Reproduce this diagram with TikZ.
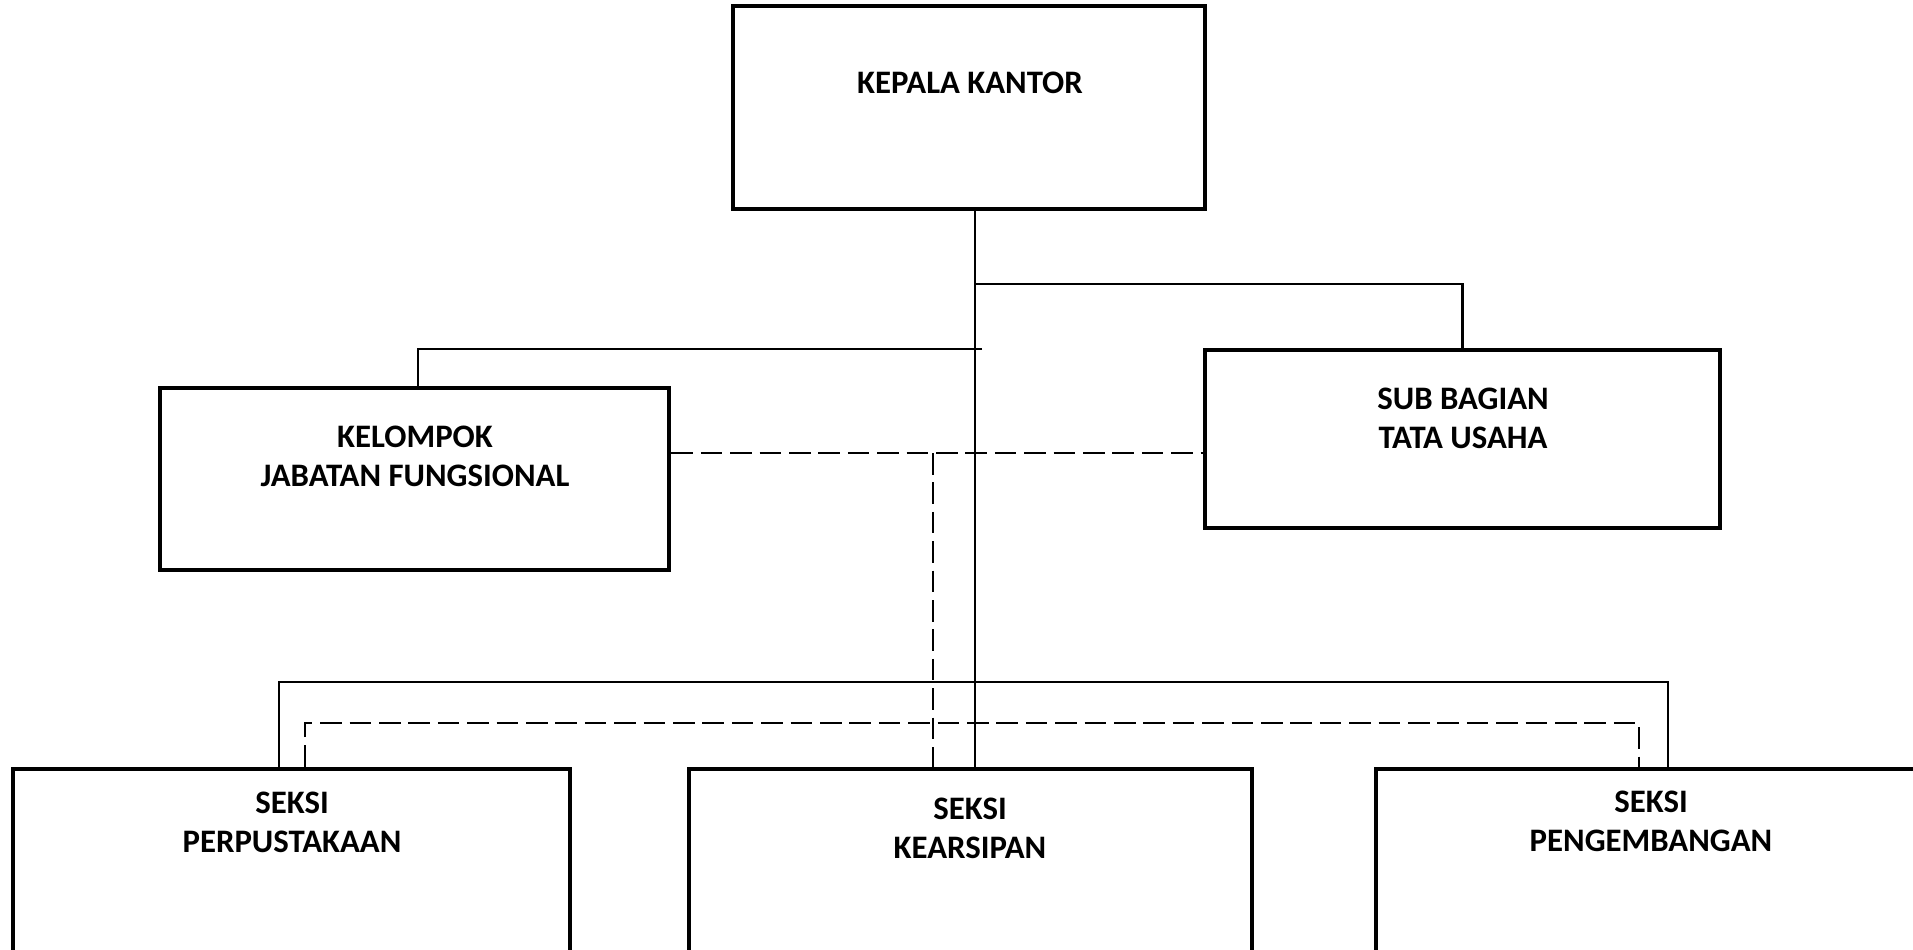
\documentclass[tikz,border=0pt]{standalone}
\usepackage{fontspec}
\setmainfont{Carlito}
\usetikzlibrary{positioning}

\begin{document}
\begin{tikzpicture}[x=0.5pt, y=-0.5pt,
	box/.style={draw, line width=2.4pt, inner sep=0pt},
	title/.style={font=\bfseries\fontsize{16.4}{19.5}\selectfont, align=center},
	link/.style={line width=1.3pt},
	dashlink/.style={line width=1.3pt, dash pattern=on 10.8pt off 3.9pt}]

	\useasboundingbox (0,0) rectangle (1913,949);

	\node[box, minimum width=236pt, minimum height=101.5pt] (kepala) at (969,107.5) {};
	\node[box, minimum width=254.5pt, minimum height=91pt] (kelompok) at (414.5,479) {};
	\node[box, minimum width=257.5pt, minimum height=89pt] (tatausaha) at (1462.5,439) {};
	\node[box, minimum width=278.5pt, minimum height=95.5pt] (perpus) at (291.5,864.5) {};
	\node[box, minimum width=281.5pt, minimum height=95.5pt] (kearsipan) at (970.5,864.5) {};
	\node[box, minimum width=274.5pt, minimum height=95.5pt] (pengembangan) at (1650.5,864.5) {};

	\node[title] (kepalatxt) at (970,83) {KEPALA KANTOR};
	\node[title] (kelompoktxt) at (415,456.5) {KELOMPOK\\JABATAN FUNGSIONAL};
	\node[title] (tatausahatxt) at (1463,418.5) {SUB BAGIAN\\TATA USAHA};
	\node[title] (perpustxt) at (292,822) {SEKSI\\PERPUSTAKAAN};
	\node[title] (kearsipantxt) at (970,828.5) {SEKSI\\KEARSIPAN};
	\node[title] (pengembangantxt) at (1651,821) {SEKSI\\PENGEMBANGAN};

	\coordinate (trunk) at (975,0);
	\coordinate (rjoin) at (975,284);
	\coordinate (ljoin) at (982,349);
	\coordinate (kdrop) at (418,349);
	\coordinate (staff) at (933,453);
	\coordinate (lbus) at (279,682);
	\coordinate (rbus) at (1668,682);
	\coordinate (ldbus) at (305,723);
	\coordinate (rdbus) at (1639,723);

	\draw[link] (kepala.south -| trunk) -- (kearsipan.north -| trunk);
	\draw[link] (rjoin) -| (tatausaha.north);
	\draw[link] (ljoin) -- (kdrop) -- (kelompok.north -| kdrop);
	\draw[link] (perpus.north -| lbus) -- (lbus) -- (rbus) -- (pengembangan.north -| rbus);

	\draw[dashlink] (kelompok.east |- staff) -- (tatausaha.west |- staff);
	\draw[dashlink] (staff) -- (kearsipan.north -| staff);
	\draw[dashlink] (perpus.north -| ldbus) -- (ldbus) -- (rdbus) -- (pengembangan.north -| rdbus);
\end{tikzpicture}
\end{document}
